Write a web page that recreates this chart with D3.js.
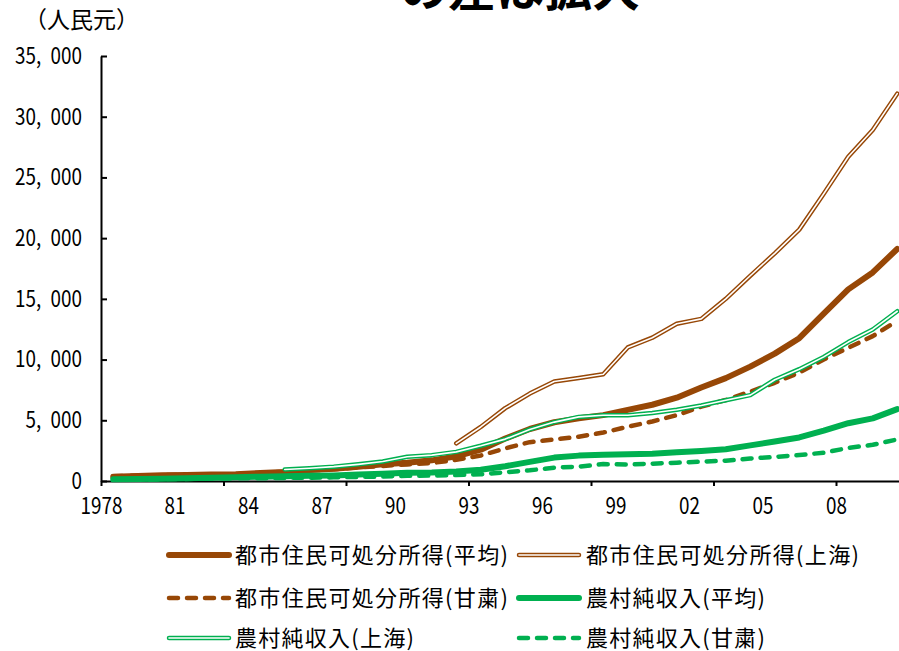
<!DOCTYPE html>
<html><head><meta charset="utf-8">
<script src="https://cdn.jsdelivr.net/npm/d3@7/dist/d3.min.js"></script>
<style>
body{margin:0;background:#fff}
svg text{font-family:"Noto Sans CJK JP","Noto Sans",sans-serif;fill:#000}
</style>
</head><body>
<svg id="c" width="899" height="651"></svg>
<script>
// ---------- data ----------
const years = [1978,1979,1980,1981,1982,1983,1984,1985,1986,1987,1988,1989,1990,1991,1992,1993,1994,1995,1996,1997,1998,1999,2000,2001,2002,2003,2004,2005,2006,2007,2008,2009,2010];
const urbanAvg = [343,405,478,500,535,565,652,739,901,1002,1180,1374,1510,1701,2027,2577,3496,4283,4839,5160,5425,5854,6280,6860,7703,8472,9422,10493,11759,13786,15781,17175,19109];
const urbanShanghai = [null,null,null,null,null,null,null,null,null,null,null,null,null,null,3100,4450,6000,7200,8200,8480,8790,11000,11800,12950,13350,15000,16900,18750,20700,23650,26700,28900,31900];
const urbanGansu = [400,440,480,500,530,560,640,760,880,960,1120,1240,1365,1475,1750,2100,2690,3200,3420,3650,3990,4470,4900,5420,6120,6670,7360,8090,8920,10010,10970,11930,13190];
const ruralAvg = [134,160,191,223,270,310,355,398,424,463,545,602,686,709,784,922,1221,1578,1926,2090,2162,2210,2253,2366,2476,2622,2936,3255,3587,4140,4761,5153,5919];
const ruralShanghai = [null,null,null,null,null,null,null,950,1050,1180,1370,1600,2000,2130,2400,2900,3450,4250,4850,5280,5410,5420,5600,5870,6220,6650,7070,8340,9210,10220,11440,12480,13980];
const ruralGansu = [101,115,153,170,200,220,230,255,270,300,340,366,431,446,489,550,723,880,1101,1185,1393,1357,1429,1509,1590,1673,1852,1980,2134,2329,2724,2980,3425];
const seriesNames = ["都市住民可処分所得(平均)","都市住民可処分所得(上海)","都市住民可処分所得(甘粛)","農村純収入(平均)","農村純収入(上海)","農村純収入(甘粛)"];
const yTicks = [0,5000,10000,15000,20000,25000,30000,35000];
const xLabelYears = [1978,1981,1984,1987,1990,1993,1996,1999,2002,2005,2008];
const xLabels = ["1978","81","84","87","90","93","96","99","02","05","08"];
const xTickYears = [1978,1983,1988,1993,1998,2003,2008];
const yUnit = "（人民元）";
const titleText = "の差は拡大";

// ---------- styles ----------
const BROWN = "#974706", GREEN = "#00B050";
const styles = [
  {color:BROWN, type:"thick"},
  {color:BROWN, type:"hollow"},
  {color:BROWN, type:"dash"},
  {color:GREEN, type:"thick"},
  {color:GREEN, type:"hollow"},
  {color:GREEN, type:"dash"}
];
const seriesValues = [urbanAvg, urbanShanghai, urbanGansu, ruralAvg, ruralShanghai, ruralGansu];

const svg = d3.select("#c");
svg.append("rect").attr("width",899).attr("height",651).attr("fill","#fff");

const plotLeft = 101, plotBottom = 481, plotTop = 56, band = 24.5;
const x = d3.scaleLinear().domain([1978, 2011]).range([plotLeft, plotLeft + 33*band]);
const y = d3.scaleLinear().domain([0, 35000]).range([plotBottom, plotTop]);

// title (cropped at the top, as in the reference)
svg.append("text").attr("x",520).attr("y",6).attr("text-anchor","middle")
  .attr("font-size",48).attr("font-weight","bold").text(titleText);
// unit
svg.append("text").attr("x",24).attr("y",28).attr("font-size",23).text(yUnit);

const SX = 0.82;
// y axis
const gy = svg.append("g").attr("transform",`translate(${plotLeft},0)`)
  .call(d3.axisLeft(y).tickValues(yTicks).tickSize(-6).tickSizeOuter(0).tickPadding(19)
    .tickFormat(d => d3.format(",")(d).replace(",", ",\u2002")));
gy.selectAll("text").attr("font-size",23).style("font-family","'Noto Sans CJK JP'")
  .attr("x", -19/SX).attr("transform",`scale(${SX},1)`);
gy.selectAll("line,path").attr("stroke","#000").attr("stroke-width",2);

// x axis ticks
const gxt = svg.append("g").attr("transform",`translate(0,${plotBottom})`)
  .call(d3.axisBottom(x).tickValues(xTickYears).tickSize(5).tickSizeOuter(0).tickFormat(""));
gxt.selectAll("line,path").attr("stroke","#000").attr("stroke-width",2);
// x labels
const gxl = svg.append("g").attr("transform",`translate(0,${plotBottom})`)
  .call(d3.axisBottom(x).tickValues(xLabelYears).tickSize(0).tickPadding(17)
    .tickFormat((d,i) => xLabels[i]));
gxl.select("path").remove();
gxl.selectAll("text").attr("font-size",23).style("font-family","'Noto Sans CJK JP'")
  .attr("transform",`scale(${SX},1)`)
  .attr("x", function(){ return 0; });

// lines
const line = d3.line().defined(d => d.v != null)
  .x(d => x(d.year + 0.5)).y(d => y(d.v));

function drawStyled(g, path, st){
  if (st.type === "thick") {
    g.append("path").attr("d",path).attr("fill","none").attr("stroke",st.color)
      .attr("stroke-width",6).attr("stroke-linejoin","round").attr("stroke-linecap","round");
  } else if (st.type === "hollow") {
    g.append("path").attr("d",path).attr("fill","none").attr("stroke",st.color)
      .attr("stroke-width",4.5).attr("stroke-linejoin","round").attr("stroke-linecap","round");
    g.append("path").attr("d",path).attr("fill","none").attr("stroke","#fff")
      .attr("stroke-width",1.6).attr("stroke-linejoin","round").attr("stroke-linecap","round");
  } else {
    g.append("path").attr("d",path).attr("fill","none").attr("stroke",st.color)
      .attr("stroke-width",4.5).attr("stroke-dasharray","9,9").attr("stroke-linejoin","round").attr("stroke-linecap","round");
  }
}

const gl = svg.append("g");
seriesValues.forEach((vals, i) => {
  const data = years.map((yr, j) => ({year: yr, v: vals[j]}));
  drawStyled(gl, line(data), styles[i]);
});

// legend
const legRows = [555, 598, 638];
const legCols = [{x1:169, x2:229, tx:235}, {x1:519, x2:579, tx:586}];
seriesNames.forEach((name, i) => {
  const r = Math.floor(i/2), c = i % 2;
  const col = legCols[c], yy = legRows[r];
  const g = svg.append("g");
  drawStyled(g, d3.line()([[col.x1, yy],[col.x2, yy]]), styles[i]);
  svg.append("text").attr("x", col.tx).attr("y", yy).attr("dy","0.36em")
    .attr("font-size",22)
    .attr("textLength", name.startsWith("都市") ? 273 : 179)
    .attr("lengthAdjust","spacing")
    .text(name);
});
</script>
</body></html>
